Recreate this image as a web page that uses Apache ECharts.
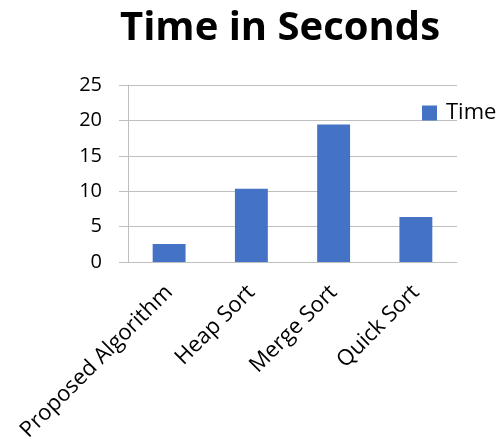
<!DOCTYPE html>
<html>
<head>
<meta charset="utf-8">
<script src="https://cdn.jsdelivr.net/npm/echarts@6/dist/echarts.min.js"></script>
<style>
    html, body { margin: 0; padding: 0; background: #fff; }
    #chart { width: 497px; height: 445px; }
</style>
</head>
<body>
<div id="chart"></div>
<script>
// data
var categories = ['Proposed Algorithm', 'Heap Sort', 'Merge Sort', 'Quick Sort'];
var timeValues = [2.54, 10.35, 19.43, 6.35];
var seriesName = 'Time';

var myChart = echarts.init(document.getElementById('chart'));
var font = 'Open Sans';

var option = {
    animation: false,
    title: {
        text: 'Time in Seconds',
        left: 275,
        textAlign: 'center',
        top: 4,
        textStyle: { fontFamily: font, fontSize: 40, fontWeight: 'bold', color: '#000' }
    },
    legend: {
        data: [seriesName],
        left: 417,
        top: 97,
        itemWidth: 15,
        itemHeight: 15,
        itemGap: 5,
        icon: 'rect',
        textStyle: { fontFamily: font, fontSize: 22, color: '#000', padding: [0, 0, 0, 4] }
    },
    grid: {
        left: 128,
        right: 40,
        top: 85,
        bottom: 183
    },
    xAxis: {
        type: 'category',
        data: categories,
        axisLine: { lineStyle: { color: '#bfbfbf', width: 1 } },
        axisTick: { length: 8, lineStyle: { color: '#bfbfbf' } },
        axisLabel: { rotate: 45, margin: 27, fontFamily: font, fontSize: 22, color: '#000', interval: 0 }
    },
    yAxis: {
        type: 'value',
        min: 0,
        max: 25,
        interval: 5,
        axisLine: { show: true, lineStyle: { color: '#bfbfbf', width: 1 } },
        axisTick: { show: true, length: 9, lineStyle: { color: '#bfbfbf' } },
        axisLabel: { margin: 26, fontFamily: font, fontSize: 20, color: '#000' },
        splitLine: { lineStyle: { color: '#bfbfbf', width: 1 } }
    },
    series: [{
        name: seriesName,
        type: 'bar',
        data: timeValues,
        barCategoryGap: '60%',
        itemStyle: { color: '#4472c4' }
    }]
};

myChart.setOption(option);
</script>
</body>
</html>
